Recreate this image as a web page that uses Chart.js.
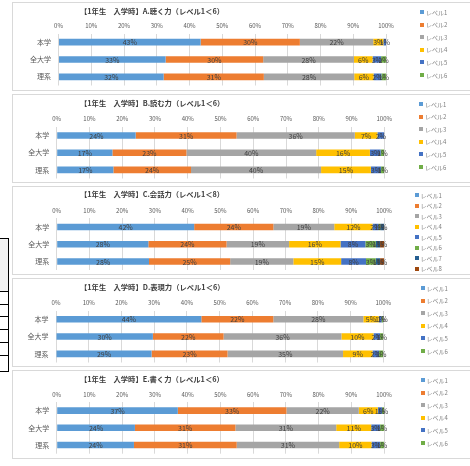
<!DOCTYPE html>
<html><head><meta charset="utf-8">
<script src="https://cdn.jsdelivr.net/npm/chart.js@4"></script>
<style>
html,body{margin:0;padding:0;background:#fff;overflow:hidden;width:470px;height:466px;}
body{position:relative;font-family:"Noto Sans CJK JP","Noto Sans",sans-serif;}
canvas{position:absolute;left:12px;}
.frame{position:absolute;left:12px;width:480px;height:89px;border:1px solid #d9d9d9;box-sizing:border-box;pointer-events:none;}
.title{position:absolute;left:80px;font-size:7.3px;font-weight:bold;color:#404040;white-space:nowrap;line-height:8px;}
.lbox{position:absolute;width:4px;height:4px;}
.ltxt{position:absolute;font-size:6px;color:#7f7f7f;white-space:nowrap;line-height:7px;}
.blk{position:absolute;background:#000;}
</style>
</head><body>
<script>
// ---- data ----
const categories = ['本学', '全大学', '理系'];
const levelNames = ['レベル1','レベル2','レベル3','レベル4','レベル5','レベル6','レベル7','レベル8'];
const tickLabels = ['0%','10%','20%','30%','40%','50%','60%','70%','80%','90%','100%'];

const titleA = '【1年生　入学時】A.聴く力（レベル1＜6）';
const titleB = '【1年生　入学時】B.読む力（レベル1＜6）';
const titleC = '【1年生　入学時】C.会話力（レベル1＜8）';
const titleD = '【1年生　入学時】D.表現力（レベル1＜6）';
const titleE = '【1年生　入学時】E.書く力（レベル1＜6）';

// values (%) per category, level1..levelN
const A_honGaku = [43.4, 30.3, 22.4, 3.1, 0.8, 0];
const A_zenDaigaku = [32.7, 29.8, 27.7, 5.7, 2.6, 1.5];
const A_rikei = [32.1, 30.6, 27.6, 5.9, 2.4, 1.4];

const B_honGaku = [24.1, 30.8, 36.1, 6.9, 2.1, 0];
const B_zenDaigaku = [17.0, 22.6, 39.6, 16.4, 3.3, 1.1];
const B_rikei = [17.3, 23.7, 39.7, 15.2, 3.1, 1.0];

const C_honGaku = [42.0, 24.2, 18.6, 11.7, 1.8, 0.6, 1.1, 0];
const C_zenDaigaku = [28.0, 23.9, 19.1, 15.7, 7.6, 3.2, 1.3, 1.2];
const C_rikei = [28.2, 24.8, 19.3, 14.6, 7.6, 3.0, 1.3, 1.2];

const D_honGaku = [44.4, 22.0, 27.5, 4.7, 0.9, 0.5];
const D_zenDaigaku = [29.6, 21.6, 36.0, 9.8, 2.0, 1.0];
const D_rikei = [29.2, 23.2, 35.3, 9.0, 2.0, 1.3];

const E_honGaku = [37.0, 33.2, 22.1, 5.8, 1.3, 0.6];
const E_zenDaigaku = [23.9, 30.7, 30.8, 10.7, 2.7, 1.2];
const E_rikei = [23.6, 31.4, 31.3, 9.9, 2.6, 1.2];

// ---- styles / layout ----
const levelColors = ['#5B9BD5','#ED7D31','#A5A5A5','#FFC000','#4472C4','#70AD47','#255E91','#9E480E'];
const FONT = '"Noto Sans CJK JP", "Noto Sans", sans-serif';
const W = 470, H = 89, PADTOP = 12;

const panels = [
  {title: titleA, rows: [A_honGaku, A_zenDaigaku, A_rikei], n: 6},
  {title: titleB, rows: [B_honGaku, B_zenDaigaku, B_rikei], n: 6},
  {title: titleC, rows: [C_honGaku, C_zenDaigaku, C_rikei], n: 8},
  {title: titleD, rows: [D_honGaku, D_zenDaigaku, D_rikei], n: 6},
  {title: titleE, rows: [E_honGaku, E_zenDaigaku, E_rikei], n: 6}
];
const layouts = [
  {top: 2,   left: 46.5, right: 374,   pTop: 31.5, pBot: 83.5, legX: 420,   legY: 10, legStep: 12.6},
  {top: 94,  left: 44.7, right: 372.3, pTop: 32.8, pBot: 84.5, legX: 419,   legY: 10, legStep: 12.6},
  {top: 186, left: 44.7, right: 372,   pTop: 32.4, pBot: 84,   legX: 414.5, legY: 9,  legStep: 10.57},
  {top: 278, left: 44,   right: 371.3, pTop: 32.6, pBot: 84.5, legX: 420.5, legY: 10, legStep: 12.6},
  {top: 370, left: 44.7, right: 372,   pTop: 32,   pBot: 83.7, legX: 420.5, legY: 10, legStep: 12.6}
];

const valueLabels = {
  id: 'valueLabels',
  afterDatasetsDraw(chart) {
    const ctx = chart.ctx;
    ctx.save();
    ctx.font = '7px ' + FONT;
    ctx.fillStyle = '#404040';
    ctx.textAlign = 'center';
    ctx.textBaseline = 'middle';
    chart.data.datasets.forEach((ds, i) => {
      const meta = chart.getDatasetMeta(i);
      meta.data.forEach((el, j) => {
        const v = ds.data[j];
        if (!v) return;
        const p = el.getProps(['x', 'y', 'base'], true);
        ctx.fillText(Math.round(v) + '%', (p.x + p.base) / 2, p.y + 0.5);
      });
    });
    ctx.restore();
  }
};

function addDiv(cls, css, text) {
  const d = document.createElement('div');
  d.className = cls;
  Object.assign(d.style, css);
  if (text !== undefined) d.textContent = text;
  document.body.appendChild(d);
  return d;
}

// stray spreadsheet table edge on the left
addDiv('', {position:'absolute', left:'0px', top:'239px', width:'8px', height:'52px', background:'#f2f2f2'});
addDiv('blk', {left:'0px', top:'238px', width:'9px', height:'1px'});
addDiv('blk', {left:'8px', top:'238px', width:'1px', height:'134px'});
[291, 304, 316, 329, 342, 355, 371].forEach(y => addDiv('blk', {left:'0px', top: y + 'px', width:'9px', height:'1px'}));

panels.forEach((p, pi) => {
  const L = layouts[pi];
  const cv = document.createElement('canvas');
  cv.width = W; cv.height = H;
  cv.style.top = L.top + 'px';
  document.body.appendChild(cv);
  addDiv('frame', {top: L.top + 'px'});
  addDiv('title', {top: (L.top + L.legY - 5) + 'px'}, p.title);

  const datasets = [];
  for (let k = 0; k < p.n; k++) {
    datasets.push({
      label: levelNames[k],
      data: p.rows.map(r => r[k]),
      backgroundColor: levelColors[k],
      borderWidth: 0,
      barPercentage: 0.38,
      categoryPercentage: 1
    });
    const yc = L.top + L.legY + k * L.legStep;
    addDiv('lbox', {left: L.legX + 'px', top: (yc - 2) + 'px', background: levelColors[k]});
    addDiv('ltxt', {left: (L.legX + 6) + 'px', top: (yc - 3.5) + 'px'}, levelNames[k]);
  }

  new Chart(cv, {
    type: 'bar',
    data: {labels: categories, datasets},
    options: {
      indexAxis: 'y',
      responsive: false,
      animation: false,
      devicePixelRatio: 1,
      layout: {padding: {left: 0, top: PADTOP, right: W - L.right, bottom: H - L.pBot}},
      plugins: {legend: {display: false}, tooltip: {enabled: false}, title: {display: false}},
      scales: {
        x: {
          position: 'top', stacked: true, min: 0, max: 100,
          ticks: {stepSize: 10, autoSkip: false, maxRotation: 0, padding: 4,
                  callback: (v, i) => tickLabels[i], font: {size: 6, family: FONT}, color: '#595959'},
          grid: {color: '#d9d9d9', drawTicks: false, lineWidth: 1},
          border: {display: false},
          afterFit: s => { s.height = L.pTop - PADTOP; s.paddingLeft = 0; s.paddingRight = 0; }
        },
        y: {
          stacked: true,
          grid: {display: false, drawTicks: false},
          border: {display: false},
          ticks: {font: {size: 7, family: FONT}, color: '#595959', padding: 7.5},
          afterFit: s => { s.width = L.left; s.paddingTop = 0; s.paddingBottom = 0; }
        }
      }
    },
    plugins: [valueLabels]
  });
});
</script>
</body></html>
